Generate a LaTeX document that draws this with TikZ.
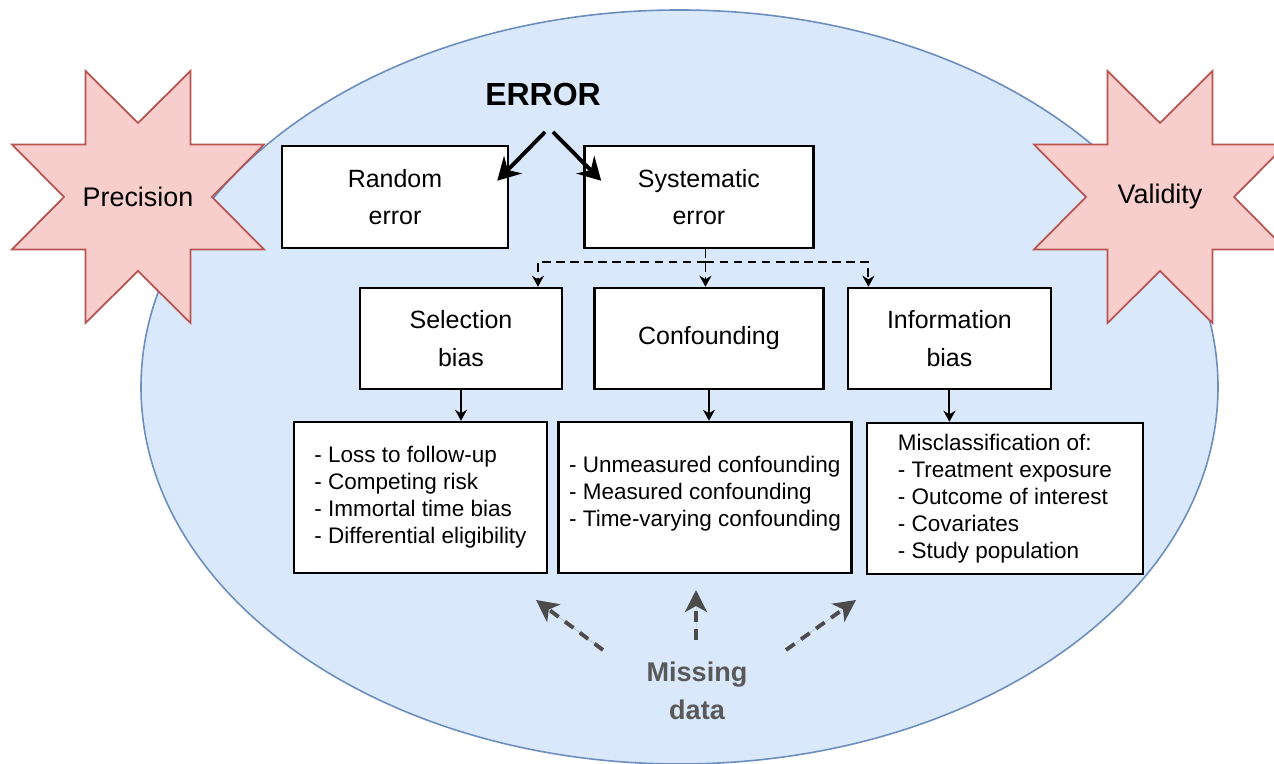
\documentclass[tikz,border=0pt]{standalone}
\usepackage{fontspec}
\setmainfont{Liberation Sans}
\usepackage{tikz}
\usetikzlibrary{arrows.meta, positioning, calc, backgrounds}
\definecolor{ovalfill}{HTML}{DAE8FC}
\definecolor{ovalline}{HTML}{6C8EBF}
\definecolor{starfill}{HTML}{F8CECC}
\definecolor{starline}{HTML}{B85450}
\definecolor{missgray}{HTML}{595959}

\begin{document}
\begin{tikzpicture}[
        box/.style={rectangle, draw, line width=1.4pt, fill=white, align=center, font=\fontsize{14.2}{21.5}\selectfont},
        listbox/.style={box, align=left, minimum height=3.02cm, font=\fontsize{12.8}{15.3}\selectfont},
        burst/.style={fill=starfill, draw=starline, line width=1pt},
        bigarrow/.style={-{Stealth[length=4.5mm, width=5mm, inset=1.5mm]}, line width=2.2pt},
        arrow/.style={-{Stealth[length=2.2mm, width=2.4mm]}, line width=1.1pt},
        dasharrow/.style={arrow, dash pattern=on 5pt off 3pt},
        missarrow/.style={-{Stealth[length=4.4mm, width=4.4mm, inset=1.2mm]}, line width=2.2pt, draw=missgray!85!black, fill=missgray!85!black, dash pattern=on 6pt off 4.5pt}
    ]
    \useasboundingbox (0,0) rectangle (25.48,15.28);

    % Top of the tree
    \node[font=\bfseries\fontsize{18.2}{22}\selectfont] (error) at (10.86,13.38) {ERROR};
    \node[box, minimum width=4.52cm, minimum height=2.04cm] (random) at (7.90,11.34) {Random\\error};
    \node[box, minimum width=4.58cm, minimum height=2.04cm, right=1.48cm of random] (systematic) {Systematic\\error};

    % Bias types
    \node[box, minimum width=4.04cm, minimum height=2.02cm] (selection) at (9.22,8.51) {Selection\\bias};
    \node[box, minimum width=4.58cm, minimum height=2.02cm, right=0.6cm of selection] (confounding) {Confounding};
    \node[box, minimum width=4.06cm, minimum height=2.02cm, right=0.44cm of confounding] (information) {Information\\bias};

    % Examples under each bias
    \node[listbox, minimum width=5.06cm] (lossbox) at (8.41,5.33) {- Loss to follow-up\\- Competing risk\\- Immortal time bias\\- Differential eligibility};
    \node[listbox, minimum width=5.86cm, right=0.18cm of lossbox] (confbox) {- Unmeasured confounding\\- Measured confounding\\- Time-varying confounding\\[-8.5pt]\mbox{}};
    \node[listbox, minimum width=5.52cm, right=0.26cm of confbox, yshift=-0.02cm] (infobox) {Misclassification of:\\- Treatment exposure\\- Outcome of interest\\- Covariates\\- Study population};

    % Side labels and missing data
    \node[font=\fontsize{15.3}{18}\selectfont] (precision) at (2.76,11.34) {Precision};
    \node[font=\fontsize{15.3}{18}\selectfont] (validity) at (23.2,11.34) {Validity};
    \node[font=\bfseries\fontsize{15.4}{21.5}\selectfont, text=missgray, align=center] (missing) at (13.94,1.46) {Missing\\data};

    % Arrows
    \draw[bigarrow] ($(error.center)+(0.04,-0.74)$) -- ($(random.north east)+(-0.24,-0.72)$);
    \draw[bigarrow] ($(error.center)+(0.2,-0.74)$) -- ($(systematic.north west)+(0.36,-0.72)$);

    \coordinate (split) at ($(systematic.south)+(0.13,-0.26)$);
    \draw[dasharrow] ($(systematic.south)+(0.13,0)$) -- (split |- confounding.north);
    \draw[dasharrow] (split) -| ($(selection.north)+(1.54,0)$);
    \draw[dasharrow] (split) -| ($(information.north)+(-1.62,0)$);

    \draw[arrow] (selection.south) -- (selection.south |- lossbox.north);
    \draw[arrow] (confounding.south) -- (confounding.south |- confbox.north);
    \draw[arrow] (information.south) -- (information.south |- infobox.north);

    \draw[missarrow] ($(missing.center)+(-1.88,0.82)$) -- ($(missing.center)+(-3.22,1.82)$);
    \draw[missarrow] ($(missing.center)+(-0.02,1.02)$) -- ($(missing.center)+(-0.02,2.02)$);
    \draw[missarrow] ($(missing.center)+(1.78,0.82)$) -- ($(missing.center)+(3.18,1.82)$);

    % Oval and stars behind everything
    \begin{scope}[on background layer]
        \fill[white] (0,0) rectangle (25.48,15.28);
        \draw[fill=ovalfill, draw=ovalline, line width=0.9pt] (13.59,7.54) ellipse [x radius=10.77, y radius=7.54];
        \foreach \s in {precision, validity} {
            \draw[burst, shift={(\s.center)}] (-1.05,2.52)
                \foreach \a in {0,-90,-180} {
                    -- ([rotate=\a]0,1.48) -- ([rotate=\a]1.05,2.52) -- ([rotate=\a]1.05,1.05) -- ([rotate=\a]2.52,1.05)
                }
                -- (-1.48,0) -- (-2.52,1.05) -- (-1.05,1.05) -- cycle;
        }
    \end{scope}
\end{tikzpicture}
\end{document}
